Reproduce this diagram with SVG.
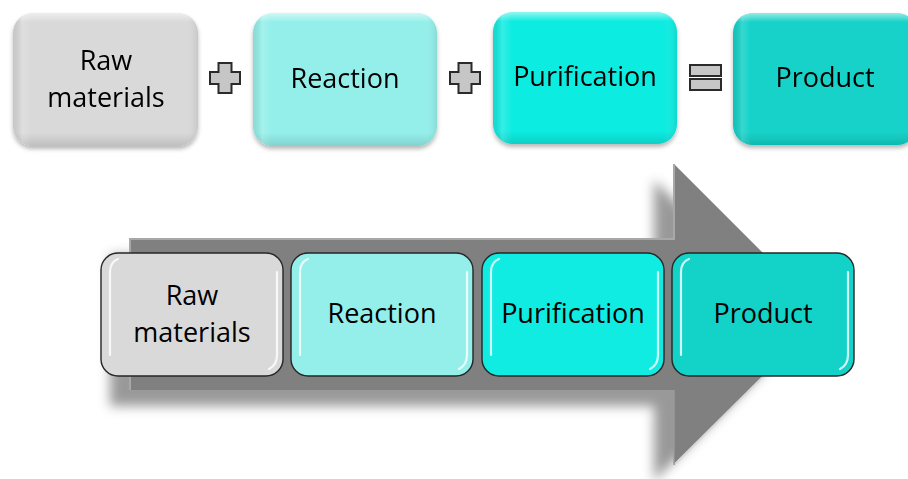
<svg xmlns="http://www.w3.org/2000/svg" width="908" height="479" viewBox="0 0 908 479">
<defs>
<style>
.t{font-family:"Open Sans","Liberation Sans",sans-serif;font-size:27px;fill:#000;text-anchor:middle}
.tb{stroke:none}
.bb{stroke:#262626;stroke-width:1.4}
.hl{fill:none;stroke:#fff;stroke-width:2.2;stroke-linecap:round;opacity:0.8}
.op{fill:#c6c6c6;stroke:#2a2a2a;stroke-width:2}
</style>
<filter id="ds" x="-10%" y="-10%" width="120%" height="125%">
<feGaussianBlur in="SourceAlpha" stdDeviation="2"/>
<feOffset dx="0" dy="3" result="b"/>
<feFlood flood-color="#000" flood-opacity="0.28"/>
<feComposite in2="b" operator="in"/>
<feMerge><feMergeNode/><feMergeNode in="SourceGraphic"/></feMerge>
</filter>
<filter id="as" x="-10%" y="-10%" width="120%" height="130%">
<feGaussianBlur in="SourceAlpha" stdDeviation="6"/>
<feOffset dx="-20" dy="16" result="b"/>
<feFlood flood-color="#000" flood-opacity="0.4"/>
<feComposite in2="b" operator="in"/>
<feMerge><feMergeNode/><feMergeNode in="SourceGraphic"/></feMerge>
</filter>
<linearGradient id="bev" x1="0" y1="0" x2="0" y2="1">
<stop offset="0" stop-color="#fff" stop-opacity="0.55"/>
<stop offset="0.07" stop-color="#fff" stop-opacity="0"/>
<stop offset="0.9" stop-color="#000" stop-opacity="0"/>
<stop offset="1" stop-color="#000" stop-opacity="0.12"/>
</linearGradient>
<linearGradient id="bevh" x1="0" y1="0" x2="1" y2="0">
<stop offset="0" stop-color="#000" stop-opacity="0.08"/>
<stop offset="0.05" stop-color="#fff" stop-opacity="0.15"/>
<stop offset="0.1" stop-color="#fff" stop-opacity="0"/>
<stop offset="0.93" stop-color="#fff" stop-opacity="0"/>
<stop offset="1" stop-color="#000" stop-opacity="0.08"/>
</linearGradient>
</defs>
<rect width="908" height="479" fill="#fff"/>

<g id="top-raw" filter="url(#ds)">
<rect class="tb" x="13" y="13" width="185" height="133" rx="20" fill="#d9d9d9"/>
<rect x="13" y="13" width="185" height="133" rx="20" fill="url(#bev)"/>
<rect x="13" y="13" width="185" height="133" rx="20" fill="url(#bevh)"/>
<text class="t" x="106" y="70">Raw</text>
<text class="t" x="106" y="107">materials</text>
</g>
<g id="top-reaction" filter="url(#ds)">
<rect class="tb" x="253" y="13" width="184" height="133" rx="20" fill="#94efea"/>
<rect x="253" y="13" width="184" height="133" rx="20" fill="url(#bev)"/>
<rect x="253" y="13" width="184" height="133" rx="20" fill="url(#bevh)"/>
<text class="t" x="345" y="88">Reaction</text>
</g>
<g id="top-purification" filter="url(#ds)">
<rect class="tb" x="493" y="12" width="184" height="132" rx="20" fill="#10ece1"/>
<rect x="493" y="12" width="184" height="132" rx="20" fill="url(#bev)"/>
<rect x="493" y="12" width="184" height="132" rx="20" fill="url(#bevh)"/>
<text class="t" x="585" y="86">Purification</text>
</g>
<g id="top-product" filter="url(#ds)">
<rect class="tb" x="733" y="13" width="184" height="132" rx="20" fill="#13d2c8"/>
<rect x="733" y="13" width="184" height="132" rx="20" fill="url(#bev)"/>
<rect x="733" y="13" width="184" height="132" rx="20" fill="url(#bevh)"/>
<text class="t" x="825" y="87">Product</text>
</g>

<g id="operators">
<path class="op" d="M218.5 63 H231.5 V72 H240 V84 H231.5 V93 H218.5 V84 H210 V72 H218.5 Z"/>
<path class="op" d="M458.5 63 H471.5 V72 H480 V84 H471.5 V93 H458.5 V84 H450 V72 H458.5 Z"/>
<rect class="op" x="690" y="65" width="31" height="11"/>
<rect class="op" x="690" y="79" width="31" height="11"/>
</g>

<g id="arrow">
<path filter="url(#as)" d="M130 239 H674 V164 L825 315 L674 465 V390 H130 Z" fill="#808080"/>
<path d="M130 390 V239 H674 V164" fill="none" stroke="#a8a8a8" stroke-width="2"/>
<path d="M674 465 L825 315" fill="none" stroke="#d8d8d8" stroke-width="2"/>
<path d="M674 390 V465" fill="none" stroke="#9a9a9a" stroke-width="1.5"/>
</g>

<g id="b-raw">
<rect class="bb" x="101" y="253" width="182" height="123" rx="17" fill="#d9d9d9"/>
<path class="hl" d="M110 355 V272 Q110 262 118 259"/>
<path class="hl" d="M277 272 V355 Q277 365 269 369"/>
<text class="t" x="192" y="305">Raw</text>
<text class="t" x="192" y="342">materials</text>
</g>
<g id="b-reaction">
<rect class="bb" x="291" y="253" width="182" height="123" rx="17" fill="#94efea"/>
<path class="hl" d="M300 355 V272 Q300 262 308 259"/>
<path class="hl" d="M467 272 V355 Q467 365 459 369"/>
<text class="t" x="382" y="323">Reaction</text>
</g>
<g id="b-purification">
<rect class="bb" x="482" y="253" width="182" height="123" rx="17" fill="#10ece1"/>
<path class="hl" d="M491 355 V272 Q491 262 499 259"/>
<path class="hl" d="M658 272 V355 Q658 365 650 369"/>
<text class="t" x="573" y="323">Purification</text>
</g>
<g id="b-product">
<rect class="bb" x="672" y="253" width="182" height="123" rx="17" fill="#13d2c8"/>
<path class="hl" d="M681 355 V272 Q681 262 689 259"/>
<path class="hl" d="M848 272 V355 Q848 365 840 369"/>
<text class="t" x="763" y="323">Product</text>
</g>
</svg>
